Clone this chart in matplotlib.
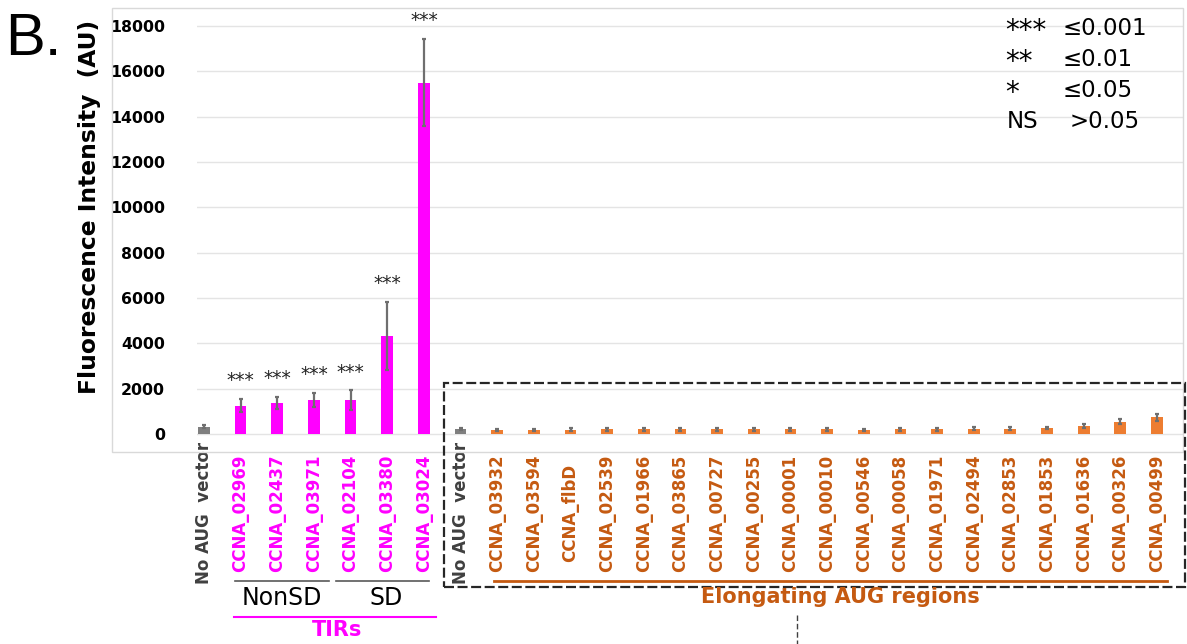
import matplotlib
matplotlib.use("Agg")
import matplotlib.pyplot as plt
from matplotlib.patches import Rectangle
from matplotlib.lines import Line2D
from matplotlib.transforms import blended_transform_factory

# ---- data -------------------------------------------------------------
control_label = "No AUG  vector"
tir_labels = ["CCNA_02969", "CCNA_02437", "CCNA_03971",
              "CCNA_02104", "CCNA_03380", "CCNA_03024"]
elong_labels = ["CCNA_03932", "CCNA_03594", "CCNA_flbD", "CCNA_02539",
                "CCNA_01966", "CCNA_03865", "CCNA_00727", "CCNA_00255",
                "CCNA_00001", "CCNA_00010", "CCNA_00546", "CCNA_00058",
                "CCNA_01971", "CCNA_02494", "CCNA_02853", "CCNA_01853",
                "CCNA_01636", "CCNA_00326", "CCNA_00499"]

control_values = [330, 220]
control_errors = [60, 40]
tir_values = [1250, 1370, 1500, 1500, 4320, 15500]
tir_errors = [300, 280, 310, 430, 1500, 1930]
tir_signif = ["***", "***", "***", "***", "***", "***"]
elong_values = [170, 170, 190, 200, 200, 200, 200, 200, 200, 200,
                190, 210, 210, 240, 240, 270, 350, 530, 740]
elong_errors = [50, 50, 60, 60, 60, 60, 60, 60, 60, 60,
                50, 60, 60, 60, 60, 50, 70, 110, 160]

y_ticks = [0, 2000, 4000, 6000, 8000, 10000, 12000, 14000, 16000, 18000]
legend_rows = [("***", "\u22640.001"), ("**", "\u22640.01"),
               ("*", "\u22640.05"), ("NS", ">0.05")]

# ---- colours ----------------------------------------------------------
GRAY = "#7f7f7f"
GRAY_TXT = "#404040"
MAGENTA = "#ff00ff"
ORANGE = "#ed7d31"
ORANGE_TXT = "#c55a11"

labels = [control_label] + tir_labels + [control_label] + elong_labels
values = control_values[:1] + tir_values + control_values[1:] + elong_values
errors = control_errors[:1] + tir_errors + control_errors[1:] + elong_errors
bar_colors = ([GRAY] + [MAGENTA] * len(tir_labels) + [GRAY]
              + [ORANGE] * len(elong_labels))
text_colors = ([GRAY_TXT] + [MAGENTA] * len(tir_labels) + [GRAY_TXT]
               + [ORANGE_TXT] * len(elong_labels))
x = list(range(len(labels)))

W, H = 1187, 644
fig = plt.figure(figsize=(W / 100, H / 100), dpi=100)


def fx(px):
    return px / W


def fy(py):
    return 1 - py / H


ax = fig.add_axes([fx(197), fy(452), fx(1183) - fx(197), fy(20) - fy(452)])
ax.bar(x, values, width=0.32, color=bar_colors, zorder=2)
ax.errorbar(x, values, yerr=errors, fmt="none", ecolor="#6f6f6f",
            elinewidth=1.6, capsize=1.7, capthick=1.6, zorder=3)

ax.set_xlim(-0.19, 26.71)
ax.set_ylim(-794, 18260)
ax.set_yticks(y_ticks)
ax.set_yticklabels([str(t) for t in y_ticks], fontsize=11.3,
                   fontweight="bold", color="#000000")
ax.tick_params(axis="y", length=0, pad=23)
ax.set_xticks([])
ax.yaxis.grid(True, color="#e4e4e4", linewidth=1.0, zorder=0)
for s in ax.spines.values():
    s.set_visible(False)

# significance marks over the TIR bars
for i, (v, e, s) in enumerate(zip(tir_values, tir_errors, tir_signif)):
    ax.annotate(s, (1 + i, v + e), xytext=(0, 13), textcoords="offset points",
                ha="center", va="center", fontsize=13.5, color="#222222",
                annotation_clip=False)

# rotated category labels
lab_tr = blended_transform_factory(ax.transData, fig.transFigure)
for xi, lab, c in zip(x, labels, text_colors):
    ax.text(xi, fy(513), lab, transform=lab_tr, rotation=90, ha="center",
            va="center", fontsize=12, fontweight="bold", color=c)

# outer chart frame
fig.patches.append(Rectangle((fx(112), fy(452)), fx(1183) - fx(112),
                             fy(8) - fy(452), transform=fig.transFigure,
                             fill=False, edgecolor="#d9d9d9", linewidth=1.0))

# axis title and panel letter
fig.text(fx(90), fy(207), "Fluorescence Intensity  (AU)", rotation=90,
         ha="center", va="center", fontsize=16.8, fontweight="bold")
fig.text(fx(5), fy(55), "B.", fontsize=43, family="Liberation Sans",
         ha="left", va="baseline")

# p-value key
for k, (sym, thr) in enumerate(legend_rows):
    base = 35 + k * 31
    if sym == "NS":
        fig.text(fx(1007), fy(base), sym, fontsize=16.5, ha="left",
                 va="baseline")
    else:
        fig.text(fx(1005), fy(base + 4), sym, fontsize=20, ha="left",
                 va="baseline")
    fig.text(fx(1070 if sym == "NS" else 1063), fy(base), thr, fontsize=16.5,
             ha="left", va="baseline")

# grouping brackets
def hline(x0, x1, y, color, lw, ls="-"):
    fig.add_artist(Line2D([fx(x0), fx(x1)], [fy(y), fy(y)], color=color,
                          linewidth=lw, linestyle=ls,
                          transform=fig.transFigure))


hline(235, 329, 581, "#595959", 1.2)
hline(336, 429, 581, "#595959", 1.2)
fig.text(fx(282), fy(598), "NonSD", fontsize=17, ha="center", va="center")
fig.text(fx(386), fy(598), "SD", fontsize=17, ha="center", va="center")
hline(234, 436, 617, MAGENTA, 1.5)
fig.text(fx(337), fy(630), "TIRs", fontsize=15, fontweight="bold",
         color=MAGENTA, ha="center", va="center")

hline(494, 1167, 580.5, ORANGE_TXT, 2.0)
fig.text(fx(840), fy(597), "Elongating AUG regions", fontsize=15,
         fontweight="bold", color=ORANGE_TXT, ha="center", va="center")

# dashed box round the elongating-region bars
fig.patches.append(Rectangle((fx(444), fy(587)), fx(1185) - fx(444),
                             fy(383) - fy(587), transform=fig.transFigure,
                             fill=False, edgecolor="#262626", linewidth=1.6,
                             linestyle=(0, (4.5, 1.6))))
fig.add_artist(Line2D([fx(797), fx(797)], [fy(615), fy(644)],
                      color="#404040", linewidth=1.0, linestyle=(0, (4, 2)),
                      transform=fig.transFigure))

fig.savefig("out.png", dpi=100)
